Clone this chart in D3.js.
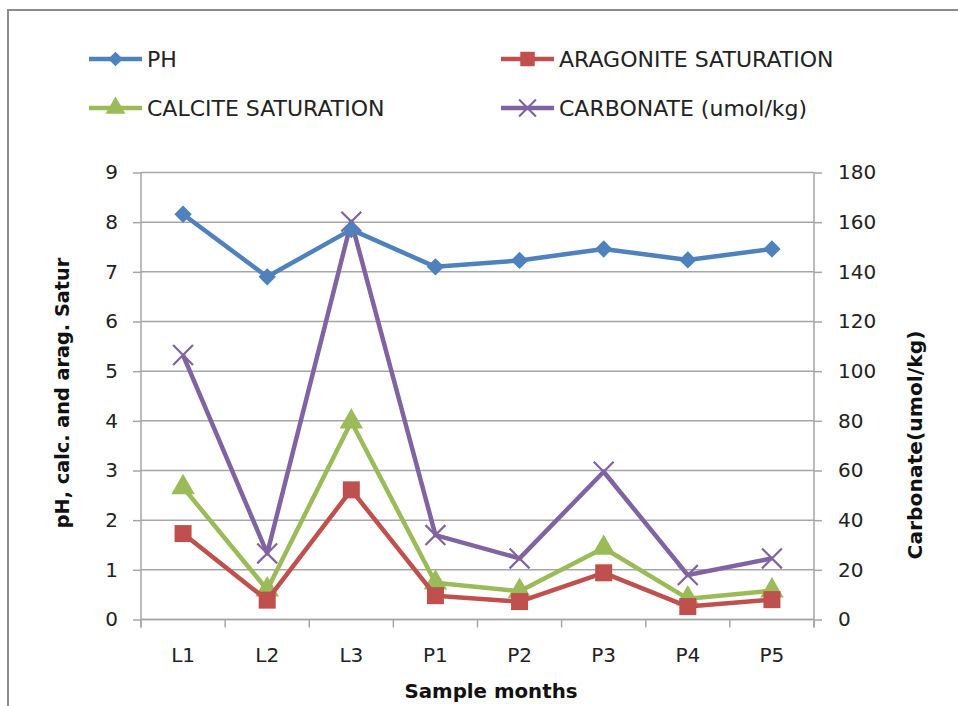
<!DOCTYPE html>
<html>
<head>
<meta charset="utf-8">
<script src="https://cdn.jsdelivr.net/npm/d3@7"></script>
<style>
  html, body { margin: 0; padding: 0; background: #fff; }
  svg { display: block; font-family: "DejaVu Sans", sans-serif; }
</style>
</head>
<body>
<svg id="chart" width="958" height="706"></svg>
<script>
// Sampling sites / months
const categories = ["L1", "L2", "L3", "P1", "P2", "P3", "P4", "P5"];

// Left axis series
const ph        = [8.16, 6.90, 7.85, 7.10, 7.23, 7.46, 7.24, 7.46];
const aragonite = [1.73, 0.39, 2.61, 0.48, 0.36, 0.94, 0.26, 0.40];
const calcite   = [2.66, 0.60, 3.98, 0.74, 0.57, 1.44, 0.42, 0.58];

// Right axis series (umol/kg)
const carbonate = [106.5, 26.6, 160.2, 34.0, 24.6, 59.5, 17.9, 24.6];

const leftTicks  = [0, 1, 2, 3, 4, 5, 6, 7, 8, 9];
const rightTicks = [0, 20, 40, 60, 80, 100, 120, 140, 160, 180];

const svg = d3.select("#chart");
const plot = { left: 141, right: 814, top: 172.5, bottom: 619.5 };

const x = d3.scaleBand().domain(categories).range([plot.left, plot.right]);
const yL = d3.scaleLinear().domain([0, 9]).range([plot.bottom, plot.top]);
const yR = d3.scaleLinear().domain([0, 180]).range([plot.bottom, plot.top]);

const gridColor = "#a6a6a6";
const textColor = "#222";
const font = "'DejaVu Sans', sans-serif";

// chart frame
svg.append("rect")
  .attr("x", 8).attr("y", 10).attr("width", 1000).attr("height", 800)
  .attr("fill", "none").attr("stroke", "#8c8c8c").attr("stroke-width", 2);

// horizontal gridlines
svg.append("g").selectAll("line").data(leftTicks).join("line")
  .attr("x1", plot.left).attr("x2", plot.right)
  .attr("y1", d => yL(d)).attr("y2", d => yL(d))
  .attr("stroke", gridColor).attr("stroke-width", 1.5);

// left axis
const gL = svg.append("g").attr("transform", `translate(${plot.left},0)`)
  .call(d3.axisLeft(yL).tickValues(leftTicks).tickSize(8).tickPadding(15).tickFormat(d3.format("d")));
// right axis
const gR = svg.append("g").attr("transform", `translate(${plot.right},0)`)
  .call(d3.axisRight(yR).tickValues(rightTicks).tickSize(8).tickPadding(16).tickFormat(d3.format("d")));
// bottom axis, ticks at band boundaries
const gB = svg.append("g").attr("transform", `translate(0,${plot.bottom})`)
  .call(d3.axisBottom(x).tickSize(0).tickPadding(28));
gB.selectAll(".boundary").data(d3.range(categories.length + 1)).join("line")
  .attr("class", "boundary")
  .attr("x1", i => plot.left + i * x.step()).attr("x2", i => plot.left + i * x.step())
  .attr("y1", 0).attr("y2", 8)
  .attr("stroke", gridColor).attr("stroke-width", 1.5);

[gL, gR, gB].forEach(g => {
  g.select(".domain").attr("stroke", gridColor).attr("stroke-width", 1.5);
  g.selectAll(".tick line").attr("stroke", gridColor).attr("stroke-width", 1.5);
  g.selectAll(".tick text").attr("fill", textColor)
    .style("font-size", "20px").style("font-family", font);
});
gB.select(".domain").attr("d", `M${plot.left},0H${plot.right}`);
gL.select(".domain").attr("d", `M0,${plot.bottom + 8}V${plot.top}`);
gR.select(".domain").attr("d", `M0,${plot.bottom + 8}V${plot.top}`);

// axis titles
svg.append("text").attr("x", 491).attr("y", 698).attr("text-anchor", "middle")
  .attr("font-weight", "bold").attr("font-size", 19.8).attr("fill", "#111")
  .text("Sample months");
svg.append("text").attr("transform", "translate(69,393) rotate(-90)")
  .attr("text-anchor", "middle").attr("font-weight", "bold").attr("font-size", 19.3).attr("fill", "#111")
  .text("pH, calc. and arag. Satur");
svg.append("text").attr("transform", "translate(922,445) rotate(-90)")
  .attr("text-anchor", "middle").attr("font-weight", "bold").attr("font-size", 20.3).attr("fill", "#111")
  .text("Carbonate(umol/kg)");

const series = [
  { name: "PH", values: ph, y: yL, color: "#4f81bd", marker: "diamond" },
  { name: "ARAGONITE SATURATION", values: aragonite, y: yL, color: "#c0504d", marker: "square" },
  { name: "CALCITE SATURATION", values: calcite, y: yL, color: "#9bbb59", marker: "triangle" },
  { name: "CARBONATE (umol/kg)", values: carbonate, y: yR, color: "#8064a2", marker: "cross" }
];

function drawMarker(sel, s, scale) {
  const k = scale || 1;
  if (s.marker === "cross") {
    sel.attr("d", d3.symbol().type(d3.symbolX).size(260 * k * k)())
      .attr("fill", "none").attr("stroke", s.color).attr("stroke-width", 2.2);
  } else if (s.marker === "diamond") {
    sel.attr("d", d3.symbol().type(d3.symbolSquare).size(150 * k * k)())
      .attr("transform", (sel.attr("transform") || "") + " rotate(45)")
      .attr("fill", s.color);
  } else if (s.marker === "square") {
    sel.attr("d", d3.symbol().type(d3.symbolSquare).size(290 * k * k)()).attr("fill", s.color);
  } else {
    sel.attr("d", d3.symbol().type(d3.symbolTriangle).size(240 * k * k)()).attr("fill", s.color);
  }
}

const line = (s) => d3.line()
  .x((d, i) => x(categories[i]) + x.bandwidth() / 2)
  .y(d => s.y(d));

// draw order: carbonate, calcite, aragonite, then pH on top
const drawOrder = [series[3], series[2], series[1], series[0]];
drawOrder.forEach(s => {
  const g = svg.append("g");
  g.append("path").datum(s.values).attr("d", line(s))
    .attr("fill", "none").attr("stroke", s.color).attr("stroke-width", 4.5)
    .attr("stroke-linejoin", "round");
  g.selectAll("path.mk").data(s.values).join("path").attr("class", "mk")
    .each(function (d, i) {
      const p = d3.select(this)
        .attr("transform", `translate(${x(categories[i]) + x.bandwidth() / 2},${s.y(d)})`);
      drawMarker(p, s, 1);
    });
});

// legend
const legendItems = [
  { s: series[0], x: 89, y: 59 },
  { s: series[1], x: 501, y: 59 },
  { s: series[2], x: 89, y: 108 },
  { s: series[3], x: 501, y: 108 }
];
legendItems.forEach(it => {
  const g = svg.append("g").attr("transform", `translate(${it.x},${it.y})`);
  g.append("line").attr("x1", 0).attr("x2", 53).attr("y1", 0).attr("y2", 0)
    .attr("stroke", it.s.color).attr("stroke-width", 4.5);
  const p = g.append("path").attr("transform", "translate(26.5,0)");
  drawMarker(p, it.s, 0.85);
  g.append("text").attr("x", 58).attr("y", 0).attr("dy", "0.36em")
    .attr("font-size", 22).attr("fill", textColor).text(it.s.name);
});
</script>
</body>
</html>
